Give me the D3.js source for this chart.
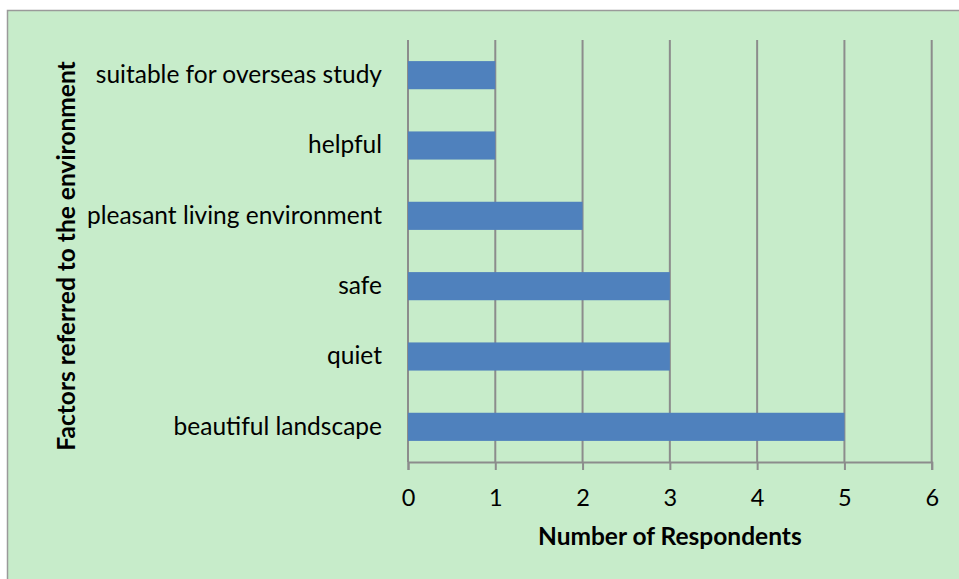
<!DOCTYPE html>
<html>
<head>
<meta charset="utf-8">
<script src="https://cdn.jsdelivr.net/npm/d3@7"></script>
<style>
  body { margin: 0; background: #ffffff; }
  svg text { font-family: Lato, "Open Sans", sans-serif; fill: #000; }
</style>
</head>
<body>
<div id="chart"></div>
<script>
// data, top to bottom
var categorias = ["suitable for overseas study", "helpful", "pleasant living environment", "safe", "quiet", "beautiful landscape"];
var respondentes = [1, 1, 2, 3, 3, 5];
var ticksX = [0, 1, 2, 3, 4, 5, 6];
var tituloX = "Number of Respondents";
var tituloY = "Factors referred to the environment";

var ancho = 959, alto = 579;
var margen = { top: 40, right: 28, bottom: 117, left: 408 };

var svg = d3.select("#chart").append("svg")
    .attr("width", ancho)
    .attr("height", alto);

// chart area background with border
svg.append("rect")
    .attr("x", 7.5).attr("y", 10.5)
    .attr("width", ancho + 10).attr("height", alto + 10)
    .attr("fill", "#c7ecca")
    .attr("stroke", "#9a9a9a")
    .attr("stroke-width", 1.5);

var x = d3.scaleLinear()
    .domain([0, 6])
    .range([margen.left, ancho - margen.right + 0.7]);

var y = d3.scaleBand()
    .domain(categorias)
    .range([margen.top, alto - margen.bottom])
    .paddingInner(0.6)
    .paddingOuter(0.3);

// vertical gridlines
svg.append("g").selectAll("line")
    .data(ticksX)
    .enter().append("line")
    .attr("x1", function (d) { return x(d); })
    .attr("x2", function (d) { return x(d); })
    .attr("y1", margen.top)
    .attr("y2", alto - margen.bottom)
    .attr("stroke", "#8c8c8c")
    .attr("stroke-width", 2);

// bars
svg.append("g").selectAll("rect")
    .data(categorias)
    .enter().append("rect")
    .attr("x", x(0))
    .attr("y", function (d) { return y(d); })
    .attr("width", function (d, i) { return x(respondentes[i]) - x(0); })
    .attr("height", y.bandwidth())
    .attr("fill", "#4f81bd");

// x axis
var ejeX = svg.append("g")
    .attr("transform", "translate(0," + (alto - margen.bottom) + ")")
    .call(d3.axisBottom(x).tickValues(ticksX).tickSize(8).tickPadding(19).tickFormat(d3.format("d")));
ejeX.select(".domain").attr("stroke", "#8c8c8c").attr("stroke-width", 2);
ejeX.selectAll(".tick line").attr("stroke", "#8c8c8c").attr("stroke-width", 2);
ejeX.selectAll(".tick text").style("font-size", "23.5px");

// y axis labels
var ejeY = svg.append("g")
    .attr("transform", "translate(" + x(0) + ",0)")
    .call(d3.axisLeft(y).tickSize(0).tickPadding(26));
ejeY.select(".domain").remove();
ejeY.selectAll(".tick text").style("font-size", "24.5px");

// axis titles
svg.append("text")
    .attr("x", (x(0) + x(6)) / 2)
    .attr("y", 545)
    .attr("text-anchor", "middle")
    .style("font-size", "24.5px")
    .style("font-weight", "bold")
    .text(tituloX);

svg.append("text")
    .attr("transform", "translate(75," + ((margen.top + alto - margen.bottom) / 2 + 5) + ") rotate(-90)")
    .attr("text-anchor", "middle")
    .style("font-size", "24.5px")
    .style("font-weight", "bold")
    .text(tituloY);
</script>
</body>
</html>
